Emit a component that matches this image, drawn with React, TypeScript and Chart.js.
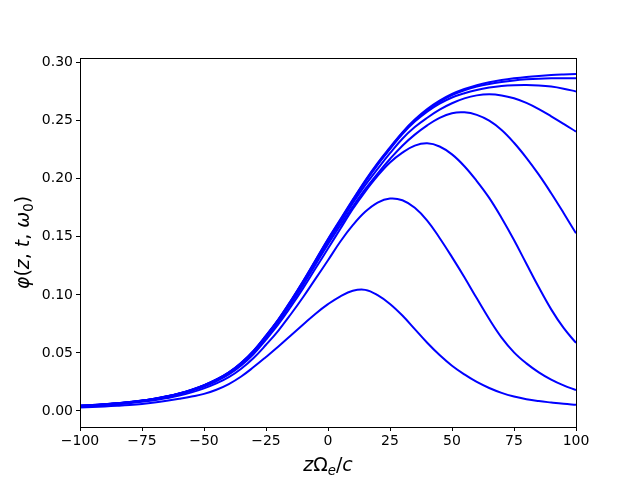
import React, { useEffect, useRef } from 'react';
import { Chart, registerables } from 'chart.js';
Chart.register(...registerables);

// z Ω_e / c sample positions
const zValues = [-100, -95, -90, -85, -80, -75, -70, -65, -60, -55, -50, -45, -40, -35, -30, -25, -20, -15, -10, -5, 0,
  5, 10, 15, 20, 25, 30, 35, 40, 45, 50, 55, 60, 65, 70, 75, 80, 85, 90, 95, 100];

// φ(z, t, ω0) curves, from lowest to highest
const phi1 = [0.0030, 0.0034, 0.0039, 0.0045, 0.0052, 0.0061, 0.0073, 0.0088, 0.0105, 0.0124, 0.0147, 0.0183, 0.0232, 0.0297, 0.0378, 0.0465, 0.0555, 0.0650, 0.0745, 0.0838, 0.0920,
  0.0988, 0.1035, 0.1043, 0.0998, 0.0922, 0.0822, 0.0705, 0.0588, 0.0482, 0.0390, 0.0315, 0.0250, 0.0198, 0.0156, 0.0124, 0.0101, 0.0085, 0.0073, 0.0062, 0.0053];
const phi2 = [0.0039, 0.0045, 0.0051, 0.0058, 0.0068, 0.0079, 0.0093, 0.0111, 0.0132, 0.0160, 0.0195, 0.0238, 0.0291, 0.0364, 0.0456, 0.0570, 0.0693, 0.0833, 0.0982, 0.1140, 0.1298,
  0.1460, 0.1600, 0.1715, 0.1795, 0.1830, 0.1815, 0.1750, 0.1640, 0.1490, 0.1325, 0.1152, 0.0970, 0.0792, 0.0632, 0.0505, 0.0410, 0.0333, 0.0270, 0.0220, 0.0180];
const phi3 = [0.0043, 0.0048, 0.0055, 0.0062, 0.0073, 0.0085, 0.0100, 0.0119, 0.0143, 0.0173, 0.0210, 0.0256, 0.0314, 0.0392, 0.0491, 0.0614, 0.0747, 0.0898, 0.1058, 0.1229, 0.1399,
  0.1570, 0.1740, 0.1890, 0.2025, 0.2140, 0.2225, 0.2285, 0.2305, 0.2278, 0.2210, 0.2108, 0.1980, 0.1835, 0.1662, 0.1472, 0.1268, 0.1065, 0.0875, 0.0715, 0.0586];
const phi4 = [0.0044, 0.0049, 0.0056, 0.0064, 0.0075, 0.0087, 0.0103, 0.0122, 0.0146, 0.0178, 0.0215, 0.0263, 0.0322, 0.0403, 0.0504, 0.0631, 0.0766, 0.0922, 0.1086, 0.1261, 0.1436,
  0.1600, 0.1760, 0.1910, 0.2045, 0.2170, 0.2285, 0.2380, 0.2460, 0.2525, 0.2565, 0.2572, 0.2550, 0.2500, 0.2420, 0.2310, 0.2180, 0.2035, 0.1875, 0.1705, 0.1530];
const phi5 = [0.0044, 0.0050, 0.0057, 0.0065, 0.0076, 0.0089, 0.0104, 0.0124, 0.0149, 0.0180, 0.0219, 0.0267, 0.0327, 0.0409, 0.0512, 0.0640, 0.0778, 0.0936, 0.1103, 0.1281, 0.1458,
  0.1625, 0.1790, 0.1945, 0.2085, 0.2220, 0.2345, 0.2445, 0.2525, 0.2595, 0.2650, 0.2692, 0.2718, 0.2727, 0.2718, 0.2693, 0.2653, 0.2600, 0.2538, 0.2473, 0.2406];
const phi6 = [0.0045, 0.0051, 0.0058, 0.0066, 0.0076, 0.0089, 0.0105, 0.0125, 0.0150, 0.0182, 0.0220, 0.0269, 0.0330, 0.0412, 0.0516, 0.0645, 0.0784, 0.0943, 0.1112, 0.1291, 0.1470,
  0.1638, 0.1807, 0.1970, 0.2120, 0.2255, 0.2385, 0.2492, 0.2578, 0.2647, 0.2700, 0.2737, 0.2765, 0.2785, 0.2799, 0.2806, 0.2808, 0.2804, 0.2794, 0.2776, 0.2752];
const phi7 = [0.0045, 0.0051, 0.0058, 0.0066, 0.0077, 0.0090, 0.0106, 0.0126, 0.0150, 0.0182, 0.0221, 0.0270, 0.0331, 0.0414, 0.0518, 0.0648, 0.0788, 0.0947, 0.1117, 0.1296, 0.1476,
  0.1645, 0.1815, 0.1978, 0.2128, 0.2263, 0.2395, 0.2503, 0.2592, 0.2663, 0.2720, 0.2762, 0.2794, 0.2817, 0.2834, 0.2847, 0.2856, 0.2862, 0.2865, 0.2866, 0.2866];
const phi8 = [0.0045, 0.0051, 0.0058, 0.0066, 0.0077, 0.0090, 0.0106, 0.0126, 0.0151, 0.0183, 0.0222, 0.0271, 0.0332, 0.0415, 0.0520, 0.0650, 0.0790, 0.0950, 0.1120, 0.1300, 0.1480,
  0.1650, 0.1820, 0.1985, 0.2135, 0.2270, 0.2400, 0.2510, 0.2600, 0.2672, 0.2730, 0.2773, 0.2806, 0.2831, 0.2850, 0.2865, 0.2877, 0.2886, 0.2893, 0.2898, 0.2902];

const seriesList = [phi1, phi2, phi3, phi4, phi5, phi6, phi7, phi8];

const xTicks = [-100, -75, -50, -25, 0, 25, 50, 75, 100];
const yTicks = [0.0, 0.05, 0.10, 0.15, 0.20, 0.25, 0.30];

type Seg = { t: string; i?: boolean; sub?: boolean };
const xLabelSegs: Seg[] = [{ t: 'z', i: true }, { t: 'Ω' }, { t: 'e', i: true, sub: true }, { t: '/' }, { t: 'c', i: true }];
const yLabelSegs: Seg[] = [{ t: 'φ', i: true }, { t: '(' }, { t: 'z', i: true }, { t: ', ' }, { t: 't', i: true }, { t: ', ' }, { t: 'ω', i: true }, { t: '0', sub: true }, { t: ')' }];

const FONT = '"DejaVu Sans", sans-serif';
const LABEL_SIZE = 19;

function segFont(s: Seg, size: number) {
  const sz = s.sub ? size * 0.7 : size;
  return `${s.i ? 'italic ' : ''}${sz}px ${FONT}`;
}

function drawRich(ctx: CanvasRenderingContext2D, segs: Seg[], size: number) {
  let total = 0;
  const widths: number[] = [];
  for (const s of segs) {
    ctx.font = segFont(s, size);
    const w = ctx.measureText(s.t).width;
    widths.push(w);
    total += w;
  }
  let x = -total / 2;
  ctx.textAlign = 'left';
  ctx.textBaseline = 'alphabetic';
  segs.forEach((s, k) => {
    ctx.font = segFont(s, size);
    ctx.fillText(s.t, x, s.sub ? size * 0.22 : 0);
    x += widths[k];
  });
}

const framePlugin = {
  id: 'frameAndLabels',
  afterDraw(chart: any) {
    const { ctx, chartArea } = chart;
    const { left, right, top, bottom } = chartArea;
    ctx.save();
    ctx.strokeStyle = '#000';
    ctx.lineWidth = 1;
    ctx.strokeRect(Math.round(left) + 0.5, Math.round(top) + 0.5, Math.round(right - left), Math.round(bottom - top));
    ctx.fillStyle = '#000';
    ctx.save();
    ctx.translate((left + right) / 2, 471);
    drawRich(ctx, xLabelSegs, LABEL_SIZE);
    ctx.restore();
    ctx.save();
    ctx.translate(29, (top + bottom) / 2);
    ctx.rotate(-Math.PI / 2);
    drawRich(ctx, yLabelSegs, LABEL_SIZE);
    ctx.restore();
    ctx.restore();
  },
};

function fmtX(v: number) {
  return v < 0 ? '\u2212' + Math.abs(v) : String(v);
}

export default function App() {
  const ref = useRef<HTMLCanvasElement | null>(null);
  useEffect(() => {
    document.body.style.margin = '0';
    const canvas = ref.current!;
    const chart = new Chart(canvas, {
      type: 'line',
      data: {
        datasets: seriesList.map((s, k) => ({
          label: 'curve ' + (k + 1),
          data: zValues.map((z, j) => ({ x: z, y: s[j] })),
          borderColor: '#0000ff',
          backgroundColor: '#0000ff',
          borderWidth: 2,
          pointRadius: 0,
          fill: false,
          tension: 0.4,
        })),
      },
      options: {
        responsive: false,
        animation: false,
        devicePixelRatio: 1,
        layout: { padding: { top: 58, right: 64, left: 0, bottom: 0 } },
        plugins: { legend: { display: false }, tooltip: { enabled: false }, title: { display: false } },
        scales: {
          x: {
            type: 'linear',
            min: -100,
            max: 100,
            afterFit: (scale: any) => { scale.height = 53; },
            afterBuildTicks: (scale: any) => { scale.ticks = xTicks.map((v) => ({ value: v })); },
            border: { display: false },
            grid: { display: true, drawOnChartArea: false, drawTicks: true, tickLength: 4, color: '#000', lineWidth: 1 },
            ticks: {
              color: '#000',
              font: { family: FONT, size: 14 },
              padding: 2,
              maxRotation: 0,
              autoSkip: false,
              callback: (v: any) => fmtX(Number(v)),
            },
          },
          y: {
            type: 'linear',
            min: -0.0138,
            max: 0.304,
            afterFit: (scale: any) => { scale.width = 80; },
            afterBuildTicks: (scale: any) => { scale.ticks = yTicks.map((v) => ({ value: v })); },
            border: { display: false },
            grid: { display: true, drawOnChartArea: false, drawTicks: true, tickLength: 4, color: '#000', lineWidth: 1 },
            ticks: {
              color: '#000',
              font: { family: FONT, size: 14 },
              padding: 3,
              autoSkip: false,
              callback: (v: any) => Number(v).toFixed(2),
            },
          },
        },
      },
      plugins: [framePlugin],
    });
    return () => chart.destroy();
  }, []);
  return <canvas ref={ref} width={640} height={480} style={{ display: 'block', width: 640, height: 480 }} />;
}
